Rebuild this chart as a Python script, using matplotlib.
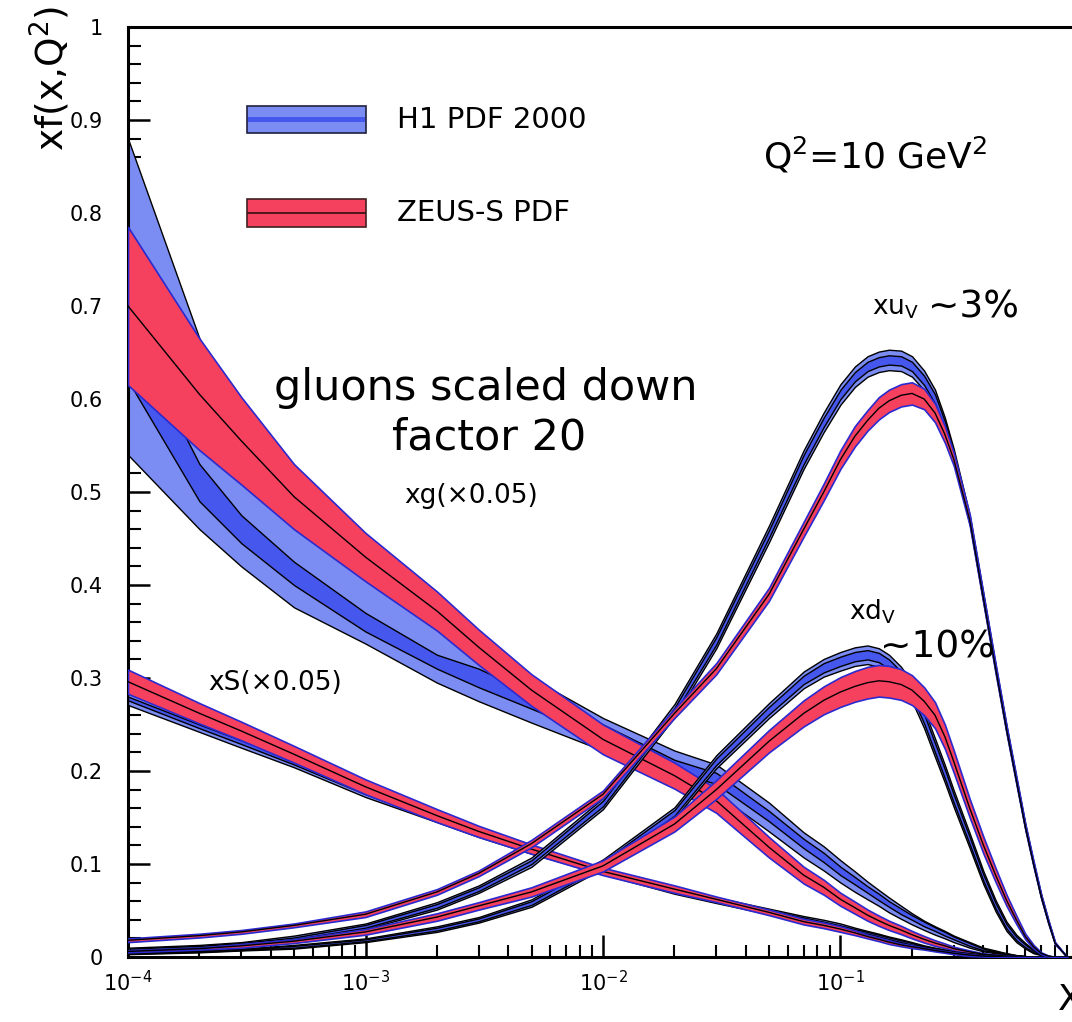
import matplotlib.pyplot as plt
import numpy as np
from matplotlib.patches import Rectangle
from matplotlib.lines import Line2D
from matplotlib.ticker import MultipleLocator, LogLocator, NullFormatter

# x grid the curves were read at
x = [1e-4, 2e-4, 3e-4, 5e-4, 1e-3, 2e-3, 3e-3, 5e-3, 1e-2, 2e-2, 3e-2, 5e-2, 7e-2,
     0.085, 0.1, 0.115, 0.13, 0.145, 0.16, 0.18, 0.2, 0.225, 0.25, 0.275, 0.3,
     0.35, 0.4, 0.45, 0.5, 0.55, 0.6, 0.65, 0.7, 0.75, 0.8, 0.9]

# gluon (x0.05)
g_zeus = [0.700, 0.605, 0.555, 0.495, 0.43, 0.372, 0.333, 0.287, 0.234, 0.195, 0.168, 0.118, 0.088,
          0.075, 0.062, 0.053, 0.045, 0.039, 0.034, 0.029, 0.024, 0.019, 0.015, 0.012, 0.009,
          0.0055, 0.003, 0.002, 0.001, 0.0005, 0, 0, 0, 0, 0, 0]
g_zeus_err = [0.085, 0.06, 0.047, 0.035, 0.026, 0.021, 0.019, 0.017, 0.016, 0.014, 0.013, 0.011, 0.009,
              0.008, 0.007, 0.0065, 0.006, 0.0055, 0.005, 0.0045, 0.004, 0.0035, 0.003, 0.0025, 0.002,
              0.0015, 0.001, 0.0007, 0.0005, 0.0003, 0, 0, 0, 0, 0, 0]
g_h1_lo = [0.54, 0.46, 0.42, 0.376, 0.337, 0.295, 0.275, 0.252, 0.222, 0.19, 0.176, 0.135, 0.107,
           0.093, 0.08, 0.07, 0.062, 0.055, 0.048, 0.041, 0.035, 0.029, 0.024, 0.02, 0.016,
           0.01, 0.006, 0.004, 0.002, 0.001, 0.0005, 0, 0, 0, 0, 0]
g_h1_hi = [0.88, 0.665, 0.58, 0.50, 0.43, 0.37, 0.34, 0.30, 0.257, 0.222, 0.207, 0.166, 0.134,
           0.119, 0.104, 0.092, 0.081, 0.072, 0.064, 0.055, 0.047, 0.039, 0.033, 0.028, 0.023,
           0.016, 0.01, 0.007, 0.004, 0.002, 0.001, 0, 0, 0, 0, 0]
g_h1_in_lo = [0.62, 0.49, 0.445, 0.40, 0.35, 0.31, 0.29, 0.267, 0.235, 0.2, 0.186, 0.146, 0.117,
              0.102, 0.088, 0.078, 0.069, 0.061, 0.054, 0.046, 0.040, 0.033, 0.028, 0.023, 0.019,
              0.012, 0.007, 0.005, 0.003, 0.0015, 0.001, 0, 0, 0, 0, 0]
g_h1_in_hi = [0.68, 0.53, 0.475, 0.425, 0.37, 0.325, 0.31, 0.283, 0.25, 0.212, 0.198, 0.157, 0.127,
              0.112, 0.097, 0.086, 0.076, 0.068, 0.06, 0.052, 0.045, 0.038, 0.032, 0.027, 0.022,
              0.015, 0.009, 0.006, 0.004, 0.002, 0.001, 0, 0, 0, 0, 0]

# sea (x0.05)
s_zeus = [0.296, 0.262, 0.243, 0.218, 0.183, 0.152, 0.135, 0.116, 0.092, 0.073, 0.062, 0.048, 0.038,
          0.034, 0.030, 0.026, 0.022, 0.019, 0.016, 0.013, 0.011, 0.009, 0.007, 0.0055, 0.004,
          0.002, 0.001, 0.0005, 0, 0, 0, 0, 0, 0, 0, 0]
s_zeus_err = [0.013, 0.011, 0.010, 0.009, 0.008, 0.007, 0.006, 0.005, 0.004, 0.004, 0.003, 0.003, 0.003,
              0.003, 0.003, 0.0025, 0.002, 0.002, 0.002, 0.0015, 0.0015, 0.001, 0.001, 0.001, 0.001,
              0.001, 0.0005, 0.0003, 0, 0, 0, 0, 0, 0, 0, 0]
s_h1 = [0.278, 0.248, 0.231, 0.209, 0.177, 0.149, 0.133, 0.115, 0.092, 0.071, 0.061, 0.049, 0.041,
        0.037, 0.033, 0.029, 0.026, 0.023, 0.020, 0.017, 0.014, 0.011, 0.009, 0.007, 0.005,
        0.003, 0.002, 0.001, 0.0005, 0, 0, 0, 0, 0, 0, 0]
s_h1_err = [0.007, 0.006, 0.006, 0.005, 0.005, 0.004, 0.004, 0.004, 0.003, 0.003, 0.003, 0.003, 0.003,
            0.003, 0.003, 0.0025, 0.002, 0.002, 0.002, 0.002, 0.002, 0.0015, 0.001, 0.001, 0.001,
            0.001, 0.0005, 0.0003, 0, 0, 0, 0, 0, 0, 0, 0]
s_h1_in = [0.002, 0.002, 0.002, 0.002, 0.002, 0.002, 0.002, 0.002, 0.0015, 0.0015, 0.0015, 0.0015, 0.0015,
           0.001, 0.001, 0.001, 0.001, 0.001, 0.001, 0.001, 0.001, 0.0005, 0.0005, 0.0005, 0.0005,
           0.0005, 0, 0, 0, 0, 0, 0, 0, 0, 0, 0]

# u valence
u_zeus = [0.018, 0.023, 0.027, 0.034, 0.046, 0.07, 0.09, 0.122, 0.175, 0.262, 0.31, 0.39, 0.46,
          0.50, 0.535, 0.56, 0.577, 0.59, 0.598, 0.604, 0.606, 0.600, 0.585, 0.562, 0.535,
          0.47, 0.385, 0.31, 0.245, 0.19, 0.14, 0.10, 0.065, 0.038, 0.015, 0.0]
u_zeus_err = [0.002, 0.002, 0.002, 0.002, 0.003, 0.003, 0.003, 0.004, 0.004, 0.005, 0.006, 0.007, 0.008,
              0.009, 0.010, 0.011, 0.011, 0.012, 0.012, 0.012, 0.012, 0.011, 0.010, 0.009, 0.007,
              0.006, 0.005, 0.005, 0.004, 0.004, 0.003, 0.003, 0.002, 0.002, 0.001, 0]
u_h1 = [0.008, 0.011, 0.014, 0.02, 0.033, 0.055, 0.073, 0.102, 0.165, 0.265, 0.34, 0.455, 0.535,
        0.575, 0.605, 0.624, 0.635, 0.64, 0.642, 0.641, 0.635, 0.62, 0.60, 0.572, 0.54,
        0.47, 0.385, 0.31, 0.245, 0.19, 0.14, 0.10, 0.065, 0.038, 0.015, 0.0]
u_h1_err = [0.002, 0.002, 0.002, 0.003, 0.003, 0.004, 0.004, 0.005, 0.006, 0.007, 0.008, 0.009, 0.010,
            0.0105, 0.011, 0.011, 0.011, 0.011, 0.011, 0.011, 0.011, 0.0105, 0.010, 0.008, 0.006,
            0.005, 0.005, 0.004, 0.004, 0.003, 0.003, 0.002, 0.002, 0.0015, 0.001, 0]
u_h1_in = [0.001, 0.001, 0.001, 0.001, 0.0015, 0.002, 0.002, 0.002, 0.003, 0.003, 0.004, 0.004, 0.005,
           0.005, 0.005, 0.005, 0.005, 0.005, 0.005, 0.005, 0.005, 0.005, 0.005, 0.004, 0.003,
           0.0025, 0.0025, 0.002, 0.002, 0.0015, 0.0015, 0.001, 0.001, 0.0007, 0.0005, 0]

# d valence
d_zeus = [0.006, 0.009, 0.012, 0.017, 0.027, 0.043, 0.055, 0.07, 0.098, 0.143, 0.18, 0.232, 0.262,
          0.276, 0.285, 0.291, 0.295, 0.297, 0.296, 0.293, 0.287, 0.275, 0.26, 0.237, 0.21,
          0.16, 0.12, 0.088, 0.061, 0.04, 0.022, 0.011, 0.004, 0.001, 0.0, 0.0]
d_zeus_err = [0.001, 0.001, 0.002, 0.002, 0.003, 0.004, 0.004, 0.005, 0.006, 0.008, 0.010, 0.012, 0.014,
              0.015, 0.016, 0.0165, 0.017, 0.017, 0.017, 0.0165, 0.016, 0.015, 0.014, 0.013, 0.012,
              0.010, 0.009, 0.0075, 0.006, 0.0045, 0.003, 0.002, 0.001, 0.0005, 0, 0]
d_h1 = [0.004, 0.006, 0.008, 0.011, 0.018, 0.03, 0.04, 0.058, 0.1, 0.155, 0.21, 0.265, 0.298,
        0.311, 0.318, 0.323, 0.325, 0.322, 0.315, 0.302, 0.285, 0.256, 0.225, 0.197, 0.17,
        0.125, 0.085, 0.055, 0.033, 0.02, 0.012, 0.006, 0.003, 0.001, 0.0, 0.0]
d_h1_err = [0.001, 0.001, 0.001, 0.002, 0.002, 0.003, 0.003, 0.004, 0.005, 0.006, 0.007, 0.008, 0.009,
            0.0095, 0.01, 0.01, 0.01, 0.01, 0.01, 0.01, 0.01, 0.01, 0.01, 0.0095, 0.009,
            0.008, 0.007, 0.006, 0.005, 0.004, 0.003, 0.002, 0.001, 0.0005, 0, 0]
d_h1_in = [0.0005, 0.0005, 0.0005, 0.001, 0.001, 0.0015, 0.0015, 0.002, 0.0025, 0.003, 0.0035, 0.004, 0.0045,
           0.005, 0.005, 0.005, 0.005, 0.005, 0.005, 0.005, 0.005, 0.005, 0.005, 0.005, 0.0045,
           0.004, 0.0035, 0.003, 0.0025, 0.002, 0.0015, 0.001, 0.0005, 0, 0, 0]

LIGHT = '#7b8cf2'
DARK = '#4657ee'
RED = '#f5405e'
ZEDGE = '#2a2ad0'

W, H = 1072, 1022
fig = plt.figure(figsize=(W / 100, H / 100), dpi=100)
ax = fig.add_axes([128 / W, 65 / H, 950 / W, 930 / H])
xa = np.array(x)


def h1_band(lo, hi, in_lo, in_hi, z):
    ax.fill_between(xa, lo, hi, facecolor=LIGHT, edgecolor='black', linewidth=1.0, zorder=z)
    ax.fill_between(xa, in_lo, in_hi, facecolor=DARK, edgecolor='black', linewidth=1.0, zorder=z + 0.1)


def zeus_band(c, e, z):
    c = np.array(c)
    e = np.array(e)
    ax.fill_between(xa, c - e, c + e, facecolor=RED, edgecolor=ZEDGE, linewidth=1.2, zorder=z)
    ax.plot(xa, c, color='black', linewidth=1.0, zorder=z + 0.1)


def sym(c, e):
    c = np.array(c)
    e = np.array(e)
    return c - e, c + e


h1_band(g_h1_lo, g_h1_hi, g_h1_in_lo, g_h1_in_hi, 2)
zeus_band(g_zeus, g_zeus_err, 3)

lo, hi = sym(s_h1, s_h1_err)
ilo, ihi = sym(s_h1, s_h1_in)
h1_band(lo, hi, ilo, ihi, 4)
zeus_band(s_zeus, s_zeus_err, 5)

lo, hi = sym(u_h1, u_h1_err)
ilo, ihi = sym(u_h1, u_h1_in)
h1_band(lo, hi, ilo, ihi, 6)
zeus_band(u_zeus, u_zeus_err, 7)

lo, hi = sym(d_h1, d_h1_err)
ilo, ihi = sym(d_h1, d_h1_in)
h1_band(lo, hi, ilo, ihi, 8)
zeus_band(d_zeus, d_zeus_err, 9)

ax.set_xscale('log')
ax.set_xlim(1e-4, 1)
ax.set_ylim(0, 1)
for s in ['left', 'bottom', 'top']:
    ax.spines[s].set_linewidth(2.2)
ax.spines['right'].set_visible(False)

ax.set_xticks([1e-4, 1e-3, 1e-2, 1e-1, 1])
ax.set_xticklabels([r'$10^{-4}$', r'$10^{-3}$', r'$10^{-2}$', r'$10^{-1}$', ''])
ax.xaxis.set_minor_locator(LogLocator(base=10, subs=[2, 3, 4, 5, 6, 7, 8, 9]))
ax.xaxis.set_minor_formatter(NullFormatter())
ax.set_yticks([i / 10 for i in range(11)])
ax.set_yticklabels(['0', '0.1', '0.2', '0.3', '0.4', '0.5', '0.6', '0.7', '0.8', '0.9', '1'])
ax.yaxis.set_minor_locator(MultipleLocator(0.02))
ax.tick_params(which='major', direction='in', length=16, width=1.8, labelsize=15,
               top=False, right=False)
ax.tick_params(which='minor', direction='in', length=9, width=1.5, top=False, right=False)
ax.tick_params(axis='y', pad=18)
ax.tick_params(axis='x', pad=9)


def px(xp, yp):
    return xp / W, 1 - yp / H


# legend
for (y0, y1, face, edge) in [(106, 133, LIGHT, '#202040'), (199, 227, RED, '#402020')]:
    fig.patches.append(Rectangle(px(247, y1), 119 / W, (y1 - y0) / H, facecolor=face,
                                 edgecolor=edge, linewidth=1.2, transform=fig.transFigure))
fig.patches.append(Rectangle(px(248, 122), 117 / W, 5 / H, facecolor=DARK, edgecolor='none',
                             transform=fig.transFigure))
fig.lines.append(Line2D([248 / W, 365 / W], [1 - 213 / H] * 2, color='#301010', linewidth=1.2,
                        transform=fig.transFigure))
fig.text(*px(397, 120), 'H1 PDF 2000', fontsize=21, va='center', ha='left')
fig.text(*px(397, 213), 'ZEUS-S PDF', fontsize=21, va='center', ha='left')

fig.text(*px(875, 155), r'Q$^2$=10 GeV$^2$', fontsize=26, va='center', ha='center')
fig.text(*px(486, 388), 'gluons scaled down', fontsize=31, va='center', ha='center')
fig.text(*px(489, 437), 'factor 20', fontsize=31, va='center', ha='center')
fig.text(*px(471, 496), 'xg(×0.05)', fontsize=19, va='center', ha='center')
fig.text(*px(275, 683), 'xS(×0.05)', fontsize=19, va='center', ha='center')
fig.text(*px(896, 308), r'xu$_\mathregular{V}$', fontsize=19, va='center', ha='center')
fig.text(*px(974, 308), '~3%', fontsize=27, va='center', ha='center')
fig.text(*px(873, 612), r'xd$_\mathregular{V}$', fontsize=19, va='center', ha='center')
fig.text(*px(938, 648), '~10%', fontsize=27, va='center', ha='center')
fig.text(*px(50, 78), r'xf(x,Q$^2$)', fontsize=27, va='center', ha='center', rotation=90)
fig.text(*px(1058, 1000), 'X', fontsize=26, va='center', ha='left')

fig.savefig('out.png', dpi=100)
